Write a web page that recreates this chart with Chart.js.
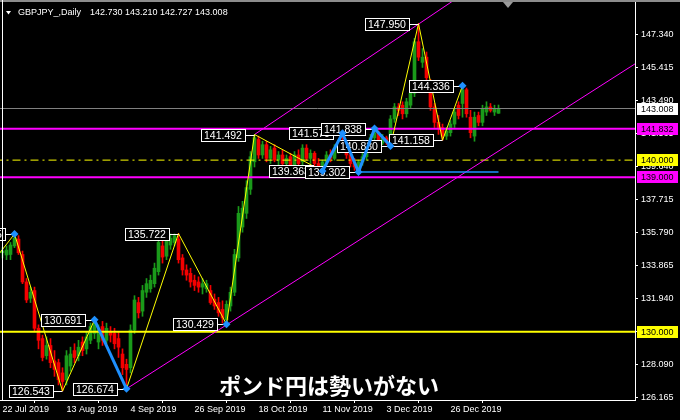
<!DOCTYPE html>
<html>
<head>
<meta charset="utf-8">
<script src="https://cdn.jsdelivr.net/npm/chart.js@4.4.0/dist/chart.umd.min.js"></script>
<style>
  html, body { margin: 0; padding: 0; background: #000; }
</style>
</head>
<body>
<canvas id="chart" width="680" height="420"></canvas>
<script>
// daily GBPJPY bars, index 0 = 22 Jul 2019
const opens = [
  134.6, 134.47, 134.5, 135.0, 135.4, 134.5, 132.9, 131.95, 132.4, 130.2,
  129.6, 128.6, 129.2, 128.3, 128.2, 127.6, 127.2, 128.0, 128.9, 128.6,
  129.4, 129.0, 129.5, 129.9, 129.4, 130.3, 129.5, 130.0, 129.9, 129.6,
  128.7, 128.1, 127.9, 130.1, 131.7, 131.2, 132.3, 132.5, 132.8, 133.5,
  135.0, 134.4, 135.05, 135.2, 135.4, 134.3, 133.6, 133.4, 133.0, 132.9,
  132.6, 132.5, 132.4, 131.9, 131.7, 131.3, 130.7, 131.5, 132.3, 134.3,
  136.1, 136.9, 138.3, 139.9, 141.2, 140.3, 140.9, 140.1, 140.7, 140.0,
  140.3, 139.8, 140.2, 139.7, 140.3, 139.9, 140.7, 140.1, 140.4, 139.8,
  139.6, 139.9, 140.3, 140.1, 140.7, 141.0, 140.7, 140.3, 139.8, 139.6,
  139.9, 140.2, 140.7, 141.3, 141.6, 141.0, 141.3, 141.2, 142.4, 143.1,
  143.2, 142.7, 143.2, 143.9, 146.9, 145.7, 146.0, 144.5, 143.1, 142.2,
  141.9, 141.4, 141.6, 142.1, 143.2, 143.3, 144.1, 142.5, 141.4, 142.6,
  142.2, 142.8, 143.1, 142.8, 142.730
];
const highs = [
  134.9, 135.0, 135.2, 135.695, 135.6, 134.7, 133.1, 132.6, 132.6, 130.4,
  129.8, 129.7, 129.6, 128.9, 128.4, 127.9, 128.9, 129.1, 129.3, 129.5,
  129.7, 130.0, 130.5, 130.691, 130.4, 130.6, 130.5, 130.3, 130.2, 130.0,
  129.0, 128.4, 130.4, 132.1, 132.0, 132.7, 133.1, 133.3, 134.0, 135.5,
  135.4, 135.6, 135.7, 135.7, 135.722, 134.5, 133.9, 133.7, 133.3, 133.2,
  133.1, 133.0, 132.7, 132.2, 132.0, 131.8, 131.8, 132.6, 134.8, 137.3,
  137.6, 138.8, 140.5, 141.492, 141.4, 141.1, 141.1, 140.8, 140.9, 140.5,
  140.6, 140.3, 140.4, 140.5, 140.6, 140.9, 140.9, 140.6, 140.5, 140.1,
  140.0, 140.5, 140.6, 140.9, 141.2, 141.570, 140.9, 140.5, 140.1, 140.0,
  140.4, 140.9, 141.5, 141.838, 141.7, 141.5, 141.4, 142.6, 143.3, 143.3,
  143.4, 143.6, 144.1, 147.1, 147.950, 146.5, 146.3, 144.7, 143.3, 142.6,
  142.1, 141.9, 142.3, 143.0, 143.4, 144.336, 144.2, 142.9, 142.8, 142.8,
  143.2, 143.4, 143.3, 143.2, 143.210
];
const lows = [
  134.3, 134.2, 134.2, 134.9, 134.5, 132.8, 131.7, 131.7, 130.0, 129.0,
  128.3, 128.4, 127.9, 127.4, 126.9, 126.543, 126.9, 127.7, 128.2, 128.3,
  128.6, 128.7, 129.3, 129.6, 129.0, 129.2, 129.3, 129.4, 129.0, 128.5,
  127.5, 126.674, 127.6, 129.9, 130.8, 130.9, 132.0, 132.3, 132.6, 133.3,
  134.0, 134.2, 134.8, 135.0, 134.0, 133.3, 133.0, 132.6, 132.4, 132.3,
  132.2, 132.3, 131.6, 131.3, 130.9, 130.5, 130.429, 131.2, 132.1, 134.1,
  135.8, 136.6, 138.0, 139.6, 140.1, 140.1, 139.9, 139.8, 139.9, 139.7,
  139.6, 139.4, 139.5, 139.5, 139.6, 139.7, 140.0, 139.8, 139.6, 139.4,
  139.363, 139.7, 139.9, 140.0, 140.4, 140.5, 140.1, 139.6, 139.4, 139.302,
  139.7, 140.0, 140.6, 141.0, 140.9, 140.9, 140.9, 140.830, 142.2, 142.6,
  142.4, 142.5, 143.0, 143.7, 145.8, 145.4, 144.6, 142.9, 141.9, 141.5,
  141.158, 141.2, 141.4, 141.9, 142.4, 142.5, 142.5, 141.3, 141.1, 142.0,
  142.0, 142.6, 142.8, 142.6, 142.727
];
const closes = [
  134.7, 134.76, 135.05, 135.45, 134.6, 132.9, 131.85, 132.3, 130.2, 129.5,
  128.5, 129.2, 128.2, 127.8, 127.2, 127.1, 128.6, 128.7, 128.5, 129.1,
  128.9, 129.7, 130.3, 130.5, 130.1, 129.5, 130.2, 129.8, 129.3, 129.1,
  127.9, 127.8, 130.1, 131.85, 131.1, 132.4, 132.8, 133.0, 133.7, 135.2,
  134.35, 135.35, 135.45, 135.6, 134.2, 133.6, 133.3, 132.9, 132.7, 132.6,
  132.8, 132.8, 131.7, 131.5, 131.1, 130.8, 131.6, 132.3, 134.5, 136.9,
  137.2, 138.4, 140.2, 141.3, 140.3, 140.9, 140.1, 140.6, 140.0, 140.3,
  139.8, 140.1, 139.7, 140.3, 139.8, 140.7, 140.1, 140.4, 139.8, 139.6,
  139.9, 140.3, 140.1, 140.7, 141.0, 140.7, 140.3, 139.8, 139.6, 139.9,
  140.2, 140.7, 141.3, 141.6, 141.0, 141.3, 141.1, 142.4, 143.1, 142.9,
  142.7, 143.4, 143.9, 146.9, 146.0, 146.0, 144.8, 143.1, 142.2, 141.9,
  141.4, 141.7, 142.1, 142.8, 142.6, 144.1, 142.7, 141.6, 142.5, 142.2,
  143.0, 143.1, 142.9, 143.0, 143.008
];

const symbolName = "GBPJPY_,Daily";
const dateTickBars = [0, 16, 32, 48, 64, 80, 96, 112];
const dateTickLabels = ["22 Jul 2019", "13 Aug 2019", "4 Sep 2019", "26 Sep 2019", "18 Oct 2019", "11 Nov 2019", "3 Dec 2019", "26 Dec 2019"];
const priceTicks = [126.165, 128.090, 130.015, 131.940, 133.865, 135.790, 137.715, 139.640, 141.565, 143.490, 145.415, 147.340];

// zigzag pivots (bar index, price)
const zigzagBars = [-2, 3, 15, 23, 31, 44, 56, 63, 80, 85, 89, 93, 97, 104, 110, 115];
const zigzagPrices = [134.2, 135.695, 126.543, 130.691, 126.674, 135.722, 130.429, 141.492, 139.363, 141.570, 139.302, 141.838, 140.830, 147.950, 141.158, 144.336];
const blueLegs = [[23, 31], [80, 85, 89, 93, 97]];
const blueMarks = [3, 23, 31, 56, 80, 85, 89, 93, 97, 115];

// drawn objects
const magentaLevels = [141.832, 139.000];
const yellowLevel = 130.000;
const roundLevel = 140.000;
const bidPrice = closes[closes.length - 1];
const blueLevelBars = [89, 124];
const blueLevelPrice = 139.302;
const channelLower = [[31, 126.674], [158.2, 145.62]];
const channelUpper = [[63, 141.492], [116, 149.81]];

const caption = "ポンド円は勢いがない";

const AXIS_FONT = { family: "'Liberation Sans', Arial, sans-serif", size: 9 };
const UP = "#1a9a1a";
const DOWN = "#f40000";
const BLUE = "#1e90ff";
const MAGENTA = "#ff00ff";
const YELLOW = "#ffff00";

const priceAt = (bar) => zigzagPrices[zigzagBars.indexOf(bar)];

const candleColors = opens.map((o, i) => (closes[i] >= o ? UP : DOWN));
const bodies = opens.map((o, i) => ({ x: i, y: [o, closes[i]] }));
const wicks = lows.map((l, i) => ({ x: i, y: [l, highs[i]] }));

const lineSet = (label, points, color, width, extra = {}) => ({
  type: "line",
  label,
  data: points.map(([x, y]) => ({ x, y })),
  borderColor: color,
  borderWidth: width,
  pointRadius: 0,
  tension: 0,
  fill: false,
  clip: 0,
  ...extra
});

const levelSet = (label, price, color, width, extra) =>
  lineSet(label, [[-2, price], [160, price]], color, width, extra);

const datasets = [
  { type: "bar", label: "wicks", data: wicks, backgroundColor: candleColors, barThickness: 1, grouped: false, minBarLength: 1, order: 30 },
  { type: "bar", label: "bodies", data: bodies, backgroundColor: candleColors, barThickness: 3, grouped: false, minBarLength: 1, order: 29 },
  levelSet("bid", bidPrice, "#808080", 1, { order: 28 }),
  levelSet("round", roundLevel, YELLOW, 1, { borderDash: [8, 4, 2, 4], order: 27 }),
  ...magentaLevels.map((p, k) => levelSet("mag" + k, p, MAGENTA, 2, { order: 26 })),
  levelSet("support", yellowLevel, YELLOW, 2, { order: 25 }),
  lineSet("chLow", channelLower, MAGENTA, 1, { order: 24 }),
  lineSet("chUp", channelUpper, MAGENTA, 1, { order: 24 }),
  lineSet("blueLevel", blueLevelBars.map((b) => [b, blueLevelPrice]), BLUE, 1.5, { order: 23 }),
  lineSet("zigzag", zigzagBars.map((b, k) => [b, zigzagPrices[k]]), YELLOW, 1, { order: 22 }),
  ...blueLegs.map((leg, k) => lineSet("blue" + k, leg.map((b) => [b, priceAt(b)]), BLUE, 3, { order: 21, clip: false, borderJoinStyle: "miter" })),
  lineSet("blueMarks", blueMarks.map((b) => [b, priceAt(b)]), BLUE, 0, {
    showLine: false, pointRadius: 4, pointStyle: "rectRot", pointBackgroundColor: BLUE, pointBorderWidth: 0, order: 20, clip: false
  })
];

const drawPivotLabel = (ctx, px, py, text) => {
  ctx.font = "10.5px 'Liberation Sans', Arial, sans-serif";
  const w = Math.round(ctx.measureText(text).width + 6);
  const h = 12;
  const right = Math.round(px - 10);
  const left = right - w;
  const top = Math.round(py - h / 2);
  ctx.fillStyle = "#000";
  ctx.fillRect(left, top, w, h);
  ctx.strokeStyle = "#fff";
  ctx.lineWidth = 1;
  ctx.strokeRect(left + 0.5, top + 0.5, w, h);
  ctx.beginPath();
  ctx.moveTo(right, Math.round(py) + 0.5);
  ctx.lineTo(px, Math.round(py) + 0.5);
  ctx.stroke();
  ctx.fillStyle = "#fff";
  ctx.textAlign = "left";
  ctx.textBaseline = "middle";
  ctx.fillText(text, left + 3, top + h / 2 + 1);
};

const drawTag = (ctx, area, y, value, bg) => {
  const yy = Math.round(y);
  ctx.fillStyle = bg;
  ctx.fillRect(area.right + 2, yy - 6, 41, 12);
  ctx.fillStyle = "#000";
  ctx.font = "9px 'Liberation Sans', Arial, sans-serif";
  ctx.textAlign = "left";
  ctx.textBaseline = "middle";
  ctx.fillText(value.toFixed(3), area.right + 6, yy + 0.5);
};

const overlayPlugin = {
  id: "overlay",
  afterDatasetDraw(chart, args) {
    if (chart.data.datasets[args.index].label !== "zigzag") return;
    const { ctx, scales } = chart;
    ctx.save();
    zigzagBars.forEach((bar, k) => {
      if (bar < 0) return;
      drawPivotLabel(ctx, scales.x.getPixelForValue(bar), scales.y.getPixelForValue(zigzagPrices[k]), zigzagPrices[k].toFixed(3));
    });
    ctx.restore();
  },
  afterDraw(chart) {
    const { ctx, chartArea, scales } = chart;
    ctx.save();
    // frame bits
    ctx.fillStyle = "#8c8c8c";
    ctx.fillRect(0, 0, chart.width, 2);
    ctx.strokeStyle = "#fff";
    ctx.lineWidth = 1;
    ctx.beginPath();
    ctx.moveTo(2.5, 0);
    ctx.lineTo(2.5, chartArea.bottom);
    ctx.stroke();
    ctx.fillStyle = "#9a9a9a";
    ctx.beginPath();
    ctx.moveTo(503, 2);
    ctx.lineTo(513, 2);
    ctx.lineTo(508, 8);
    ctx.closePath();
    ctx.fill();

    // price tags on the axis
    drawTag(ctx, chartArea, scales.y.getPixelForValue(bidPrice), bidPrice, "#fff");
    drawTag(ctx, chartArea, scales.y.getPixelForValue(magentaLevels[0]), magentaLevels[0], MAGENTA);
    drawTag(ctx, chartArea, scales.y.getPixelForValue(roundLevel), roundLevel, YELLOW);
    drawTag(ctx, chartArea, scales.y.getPixelForValue(magentaLevels[1]), magentaLevels[1], MAGENTA);
    drawTag(ctx, chartArea, scales.y.getPixelForValue(yellowLevel), yellowLevel, YELLOW);

    // title
    ctx.fillStyle = "#fff";
    ctx.beginPath();
    ctx.moveTo(6, 11);
    ctx.lineTo(11, 11);
    ctx.lineTo(8.5, 14.5);
    ctx.closePath();
    ctx.fill();
    ctx.font = "9px 'Liberation Sans', Arial, sans-serif";
    ctx.textAlign = "left";
    ctx.textBaseline = "middle";
    const last = closes.length - 1;
    ctx.fillText(symbolName, 18, 13);
    ctx.fillText([opens[last], highs[last], lows[last], closes[last]].map((v) => v.toFixed(3)).join(" "), 90, 13);

    // caption
    ctx.font = "bold 22px 'Noto Sans CJK JP', sans-serif";
    ctx.textAlign = "center";
    ctx.lineJoin = "round";
    ctx.lineWidth = 4;
    ctx.strokeStyle = "#000";
    ctx.strokeText(caption, 329, 386);
    ctx.fillStyle = "#fff";
    ctx.fillText(caption, 329, 386);
    ctx.restore();
  }
};

const zeroPadding = (scale) => {
  scale.paddingTop = 0;
  scale.paddingBottom = 0;
  scale.paddingLeft = 0;
  scale.paddingRight = 0;
};

new Chart(document.getElementById("chart"), {
  type: "bar",
  data: { datasets },
  options: {
    responsive: false,
    animation: false,
    events: [],
    layout: { padding: 0, autoPadding: false },
    plugins: { legend: { display: false }, tooltip: { enabled: false } },
    scales: {
      x: {
        type: "linear",
        offset: false,
        min: -0.625,
        max: -0.625 + 635 / 4,
        afterBuildTicks: (scale) => { scale.ticks = dateTickBars.map((v) => ({ value: v })); },
        afterFit: (scale) => { scale.height = 20; zeroPadding(scale); },
        border: { color: "#fff", width: 1 },
        grid: { drawOnChartArea: false, drawTicks: true, tickLength: 3, tickColor: "#fff" },
        ticks: {
          autoSkip: false,
          maxRotation: 0,
          align: "start",
          padding: 1,
          color: "#fff",
          font: AXIS_FONT,
          callback: (v) => dateTickLabels[dateTickBars.indexOf(v)] ?? ""
        }
      },
      y: {
        type: "linear",
        position: "right",
        min: 126.021,
        max: 149.331,
        afterBuildTicks: (scale) => { scale.ticks = priceTicks.map((v) => ({ value: v })); },
        afterFit: (scale) => { scale.width = 45; zeroPadding(scale); },
        border: { color: "#fff", width: 1 },
        grid: { drawOnChartArea: false, drawTicks: true, tickLength: 3, tickColor: "#fff" },
        ticks: {
          autoSkip: false,
          crossAlign: "near",
          padding: 3,
          color: "#fff",
          font: AXIS_FONT,
          callback: (v) => Number(v).toFixed(3)
        }
      }
    }
  },
  plugins: [overlayPlugin]
});
</script>
</body>
</html>
